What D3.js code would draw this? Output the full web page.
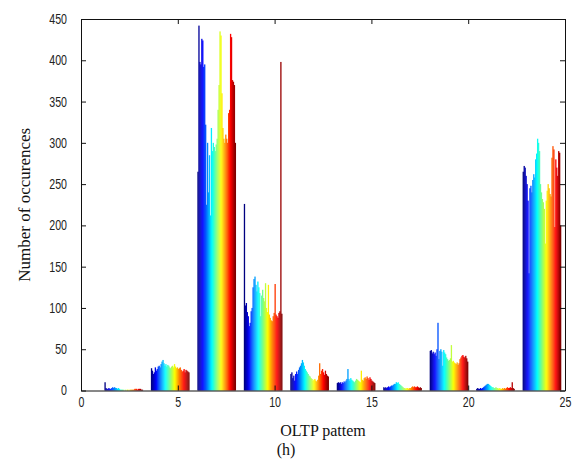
<!DOCTYPE html>
<html><head><meta charset="utf-8">
<script src="https://cdn.jsdelivr.net/npm/d3@7"></script>
<style>body{margin:0;background:#fff}</style>
</head><body>
<svg id="chart" width="573" height="462"></svg>
<script>
// Pattern positions on the x axis (group centres)
const patternX = [2.2, 4.6, 7.0, 9.4, 11.8, 14.2, 16.6, 19.0, 21.4, 23.8];
// Occurrence counts: one array per pattern group, 40 series each (blue -> red)
const g1  = [10, 3, 2, 2, 3, 2, 2, 3, 4, 3, 4, 3, 3, 2, 3, 2, 1, 1, 1, 1, 0, 1, 0, 1, 1, 0, 1, 1, 1, 1, 1, 2, 2, 2, 1, 2, 2, 2, 1, 1];
const g2  = [27, 24, 20, 22, 28, 24, 26, 29, 30, 28, 32, 35, 37, 33, 30, 32, 29, 31, 30, 28, 27, 29, 30, 28, 32, 29, 27, 28, 26, 27, 28, 25, 23, 24, 26, 22, 25, 24, 23, 22];
const g3  = [265, 442, 398, 395, 426, 424, 392, 395, 322, 225, 300, 240, 285, 212, 318, 290, 300, 295, 290, 298, 305, 340, 370, 435, 430, 360, 318, 305, 300, 310, 305, 300, 336, 340, 432, 428, 376, 374, 370, 300];
const g4  = [226, 103, 106, 95, 90, 78, 82, 96, 100, 125, 135, 138, 128, 120, 132, 125, 118, 90, 115, 122, 112, 108, 130, 100, 95, 128, 92, 88, 85, 84, 90, 94, 129, 92, 90, 88, 94, 96, 398, 93];
const g5  = [20, 22, 15, 18, 12, 20, 23, 20, 25, 28, 30, 33, 37, 34, 30, 26, 24, 22, 20, 18, 17, 15, 14, 12, 13, 14, 12, 11, 13, 18, 33, 20, 24, 26, 22, 19, 24, 20, 18, 17];
const g6  = [9, 10, 9, 10, 8, 10, 9, 11, 10, 12, 14, 26, 14, 12, 15, 13, 12, 11, 10, 12, 14, 13, 12, 11, 10, 24, 13, 12, 15, 16, 14, 17, 15, 13, 16, 14, 12, 11, 10, 9];
const g7  = [4, 3, 4, 3, 4, 5, 4, 5, 6, 6, 7, 8, 8, 10, 9, 10, 8, 7, 6, 5, 4, 3, 3, 2, 3, 3, 2, 3, 3, 4, 5, 4, 5, 4, 4, 5, 4, 3, 4, 3];
const g8  = [48, 49, 45, 47, 44, 46, 42, 50, 82, 38, 48, 50, 47, 30, 49, 46, 44, 40, 38, 36, 37, 39, 55, 35, 36, 34, 33, 32, 34, 31, 33, 38, 40, 42, 43, 41, 40, 42, 39, 35];
const g9  = [2, 3, 2, 2, 3, 2, 3, 4, 5, 6, 7, 8, 8, 7, 6, 5, 4, 4, 3, 3, 4, 3, 3, 2, 3, 2, 2, 3, 2, 3, 2, 3, 4, 3, 3, 4, 3, 10, 3, 2];
const g10 = [265, 272, 270, 260, 250, 230, 142, 245, 248, 240, 255, 262, 258, 280, 287, 305, 300, 290, 250, 240, 232, 228, 220, 178, 230, 242, 250, 245, 238, 235, 282, 296, 292, 198, 280, 270, 260, 290, 288, 200];
const groupValues = [g1, g2, g3, g4, g5, g6, g7, g8, g9, g10];
const xTicks = [0, 5, 10, 15, 20, 25];
const yTicks = [0, 50, 100, 150, 200, 250, 300, 350, 400, 450];

const svg = d3.select("#chart");
const L = 81, R = 565, T = 19, B = 390.5;
const x = d3.scaleLinear().domain([0, 25]).range([L, R]);
const y = d3.scaleLinear().domain([0, 450]).range([B, T]);

function jet(t) {
  const c = v => Math.max(0, Math.min(1, v));
  const r = c(1.5 - Math.abs(4 * t - 3));
  const g = c(1.5 - Math.abs(4 * t - 2));
  const b = c(1.5 - Math.abs(4 * t - 1));
  return d3.rgb(r * 255, g * 255, b * 255).toString();
}

const M = g1.length;
const groupW = 1.98;
const bw = groupW / M;
const bars = [];
groupValues.forEach((vals, gi) => {
  vals.forEach((v, si) => {
    bars.push({x0: patternX[gi] - groupW / 2 + si * bw, v: v, s: si});
  });
});

svg.append("g").selectAll("rect").data(bars).join("rect")
  .attr("x", d => x(d.x0))
  .attr("width", x(bw) - x(0) + 0.35)
  .attr("y", d => y(d.v))
  .attr("height", d => y(0) - y(d.v))
  .attr("fill", d => jet(d.s / (M - 1)));

const sx = 0.76;
function styleAxis(g) {
  g.selectAll("path.domain").attr("stroke", "#111").attr("stroke-width", 1);
  g.selectAll(".tick line").attr("stroke", "#111");
  g.selectAll("text").attr("fill", "#222").style("font-family", "'Liberation Sans', Arial, sans-serif").style("font-size", "14px");
}

const xb = svg.append("g").attr("transform", `translate(0,${B})`)
  .call(d3.axisBottom(x).tickValues(xTicks).tickSizeInner(-5).tickSizeOuter(0).tickPadding(7));
styleAxis(xb);
xb.selectAll("text").attr("transform", `scale(${sx},1)`);

const xt = svg.append("g").attr("transform", `translate(0,${T})`)
  .call(d3.axisTop(x).tickValues(xTicks).tickSizeInner(-5).tickSizeOuter(0).tickFormat(""));
styleAxis(xt);

const yl = svg.append("g").attr("transform", `translate(${L},0)`)
  .call(d3.axisLeft(y).tickValues(yTicks).tickSizeInner(-5).tickSizeOuter(0));
styleAxis(yl);
yl.selectAll("text").attr("x", -14 / sx).attr("transform", `scale(${sx},1)`);

const yr = svg.append("g").attr("transform", `translate(${R},0)`)
  .call(d3.axisRight(y).tickValues(yTicks).tickSizeInner(-5).tickSizeOuter(0).tickFormat(""));
styleAxis(yr);

const serif = "'Liberation Serif', 'Times New Roman', serif";
svg.append("text")
  .attr("transform", `translate(30,${(T + B) / 2}) rotate(-90)`)
  .attr("text-anchor", "middle")
  .style("font-family", serif).style("font-size", "17px").attr("fill", "#111")
  .text("Number of occurences");

svg.append("text")
  .attr("x", (L + R) / 2).attr("y", 436)
  .attr("text-anchor", "middle")
  .style("font-family", serif).style("font-size", "16px").attr("fill", "#111")
  .text("OLTP pattem");

svg.append("text")
  .attr("x", 286).attr("y", 455)
  .attr("text-anchor", "middle")
  .style("font-family", serif).style("font-size", "16px").attr("fill", "#111")
  .text("(h)");
</script>
</body></html>
